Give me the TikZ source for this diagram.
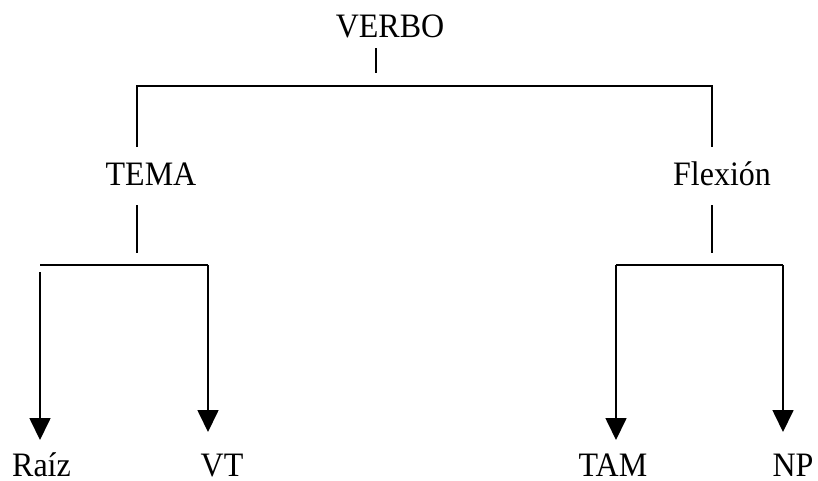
\documentclass[tikz,border=0pt]{standalone}
\usepackage{fontspec}
\usepackage{graphicx}
\setmainfont{Liberation Serif}
\usetikzlibrary{arrows.meta}
\newcommand{\tallt}[1]{\scalebox{1}[1.07]{#1}}
\begin{document}
\begin{tikzpicture}[x=1pt,y=-1pt,
  lbl/.style={anchor=base,inner sep=0pt,font=\fontsize{32}{38}\selectfont},
  ln/.style={line width=1.7pt},
  arr/.style={ln,-{Triangle[length=22pt,width=21pt]}}]
\useasboundingbox (0,0) rectangle (818,480);
% labels
\node[lbl] (verbo) at (390,37) {\tallt{VERBO}};
\node[lbl] (tema) at (151,185) {\tallt{TEMA}};
\node[lbl] (flex) at (722,185) {\tallt{Flexión}};
\node[lbl] (raiz) at (41.5,476) {\tallt{Raíz}};
\node[lbl] (vt) at (222,476) {\tallt{VT}};
\node[lbl] (tam) at (613,476) {\tallt{TAM}};
\node[lbl] (np) at (793,476) {\tallt{NP}};
% coordinates
\coordinate (v1) at (376,48);
\coordinate (v2) at (376,73);
\coordinate (l0) at (137,147);
\coordinate (l1) at (137,86);
\coordinate (r1) at (712,86);
\coordinate (r0) at (712,147);
\coordinate (t1) at (137,205);
\coordinate (t2) at (137,253);
\coordinate (f1) at (712,205);
\coordinate (f2) at (712,253);
\coordinate (ba) at (40,265);
\coordinate (bb) at (208,265);
\coordinate (bc) at (616,265);
\coordinate (bd) at (783,265);
\coordinate (rs) at (40,272);
\coordinate (re) at (40,440);
\coordinate (ve) at (208,432);
\coordinate (te) at (616,440);
\coordinate (ne) at (783,432);
% lines
\draw[ln] (v1) -- (v2);
\draw[ln] (l0) -- (l1) -- (r1) -- (r0);
\draw[ln] (t1) -- (t2);
\draw[ln] (f1) -- (f2);
\draw[ln] (ba) -- (bb);
\draw[arr] (bb) -- (ve);
\draw[arr] (rs) -- (re);
\draw[ln] (bc) -- (bd);
\draw[arr] (bc) -- (te);
\draw[arr] (bd) -- (ne);
\end{tikzpicture}
\end{document}
